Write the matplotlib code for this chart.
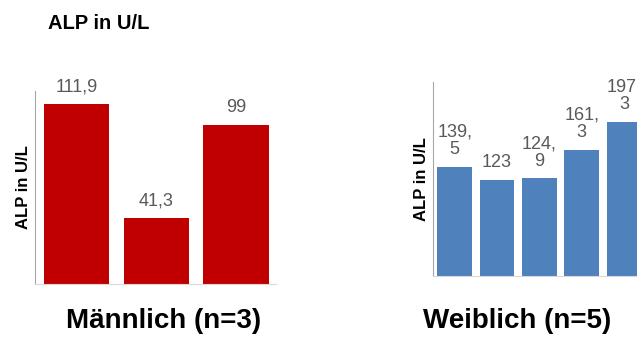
import matplotlib.pyplot as plt

plt.rcParams['font.family'] = ['Liberation Sans', 'DejaVu Sans']

# ALP-Werte je Patient
maennlich = [111.9, 41.3, 99]
weiblich = [139.5, 123, 124.9, 161.3, 197.3]

titel = "ALP in U/L"
achse = "ALP in U/L"
gruppe_m = "Männlich (n=3)"
gruppe_w = "Weiblich (n=5)"

rot = "#C00000"
blau = "#4F81BD"
grau_text = "#595959"


def fmt(v, umbruch=False):
    s = f"{v:g}".replace(".", ",")
    if umbruch and "," in s:
        s = s.replace(",", ",\n")
    return s


def balken(ax, werte, farbe, ymax, xr, umbruch):
    x = range(len(werte))
    bars = ax.bar(x, werte, width=0.82, color=farbe)
    for b, v in zip(bars, werte):
        ax.annotate(fmt(v, umbruch), (b.get_x() + b.get_width() / 2, v),
                    xytext=(0, 6), textcoords="offset points",
                    ha="center", va="bottom", fontsize=13, color=grau_text,
                    linespacing=1.05, annotation_clip=False)
    ax.set_ylim(0, ymax)
    ax.set_xlim(*xr)
    ax.set_xticks([])
    ax.set_yticks([])
    ax.spines["top"].set_visible(False)
    ax.spines["right"].set_visible(False)
    ax.spines["left"].set_color("#a6a6a6")
    ax.spines["bottom"].set_color("#d9d9d9")
    ax.set_ylabel(achse, fontsize=12, fontweight="bold", labelpad=3)


fig = plt.figure(figsize=(6.37, 3.37), dpi=100)

ax1 = fig.add_axes([0.055, 0.157, 0.378, 0.573])
balken(ax1, maennlich, rot, 120, (-0.52, 2.5), False)

ax2 = fig.add_axes([0.680, 0.181, 0.333, 0.576])
balken(ax2, weiblich, blau, 248, (-0.51, 4.5), True)

fig.text(0.075, 0.914, titel, fontsize=14.5, fontweight="bold", ha="left", va="baseline")
fig.text(0.257, 0.027, gruppe_m, fontsize=20, fontweight="bold", ha="center", va="baseline")
fig.text(0.812, 0.027, gruppe_w, fontsize=20, fontweight="bold", ha="center", va="baseline")

fig.savefig("out.png", dpi=100)
